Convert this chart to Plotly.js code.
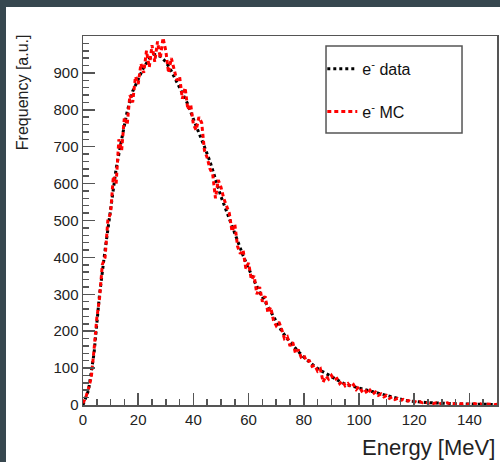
<!DOCTYPE html>
<html>
<head>
<meta charset="utf-8">
<script src="https://cdn.plot.ly/plotly-3.0.1.min.js"></script>
<style>
  html, body { margin: 0; padding: 0; background: #37474f; width: 500px; height: 462px; overflow: hidden; }
  #chart { position: absolute; left: 6px; top: 7px; width: 494px; height: 455px; background: #ffffff; }
</style>
</head>
<body>
<div id="chart"></div>
<script>
// Energy bins (MeV) and frequencies (a.u.)
const dataEnergy = [0,2,4,6,8,10,12,14,16,18,20,22,24,26,28,30,32,34,36,38,40,42,44,46,48,50,52,54,56,58,60,62,64,66,68,70,72,74,76,78,80,82,84,86,88,90,92,94,96,98,100,102,104,106,108,110,112,114,116,118,120,122,124,126,128,130,132,134,136,138,140,142,144,146,148,150];
const dataFreq = [0,40,140,300,420,530,640,720,795,850,885,915,938,950,945,930,905,875,845,815,775,740,700,660,610,565,525,485,440,405,370,335,305,280,252,225,200,180,162,145,130,116,104,94,85,76,68,60,54,50,45,40,36,32,28,24,20,17,14,11,9,8,7,6,5,4,4,3,3,3,2,2,2,2,2,1];

const mcEnergy = [0,1,2,3,4,5,6,7,8,9,10,11,12,13,14,15,16,17,18,19,20,21,22,23,24,25,26,27,28,29,30,31,32,33,34,35,36,37,38,39,40,41,42,43,44,45,46,47,48,49,50,51,52,53,54,55,56,57,58,59,60,61,62,63,64,65,66,67,68,69,70,71,72,73,74,75,76,77,78,79,80,81,82,83,84,85,86,87,88,89,90,91,92,93,94,95,96,97,98,99,100,101,102,103,104,105,106,107,108,109,110,111,112,113,114,115,116,117,118,119,120,121,122,123,124,125,126,127,128,129,130,131,132,133,134,135,136,137,138,139,140,141,142,143,144,145,146,147,148,149,150];
const mcFreq = [5,20,45,75,150,235,290,380,400,500,520,620,600,720,690,780,760,840,820,890,870,925,900,960,915,975,930,985,940,995,960,900,940,910,880,890,830,860,800,815,760,745,780,765,690,670,640,625,560,610,590,560,540,520,470,490,430,410,420,370,385,340,350,300,320,280,295,250,265,230,215,225,205,180,185,160,170,140,150,130,135,118,120,105,108,92,98,62,78,70,80,68,72,58,65,52,58,48,55,42,50,38,44,30,40,30,35,26,30,22,26,18,22,15,18,12,15,10,12,8,10,7,9,6,8,5,7,4,6,3,5,4,6,3,4,2,5,3,4,2,3,2,4,2,3,1,3,2,2,1,2];

const xTitle = 'Energy [MeV]';
const yTitle = 'Frequency [a.u.]';
const nameData = 'e<sup>-</sup> data';
const nameMC = 'e<sup>-</sup> MC';

const traces = [
  {
    x: dataEnergy, y: dataFreq, type: 'scatter', mode: 'lines', name: nameData,
    legendgroup: 'a',
    line: { color: '#000000', width: 3, dash: '3px,3px' }
  },
  {
    x: mcEnergy, y: mcFreq, type: 'scatter', mode: 'lines', name: nameMC,
    legendgroup: 'b',
    line: { color: '#ff0000', width: 3, dash: '4px,3px' }
  }
];

const axisCommon = {
  showgrid: false, zeroline: false, showline: true, mirror: true,
  linecolor: '#555555', linewidth: 1.5,
  ticks: 'inside', tickcolor: '#555555', tickwidth: 1.5,
  tickfont: { family: 'Liberation Sans, Arial, sans-serif', size: 15, color: '#222222' }
};

const layout = {
  width: 494, height: 455,
  margin: { l: 77, r: 3, t: 29, b: 57 },
  paper_bgcolor: '#ffffff', plot_bgcolor: '#ffffff',
  font: { family: 'Liberation Sans, Arial, sans-serif', color: '#222222' },
  showlegend: true,
  legend: {
    x: 0.578, y: 0.957, xanchor: 'left', yanchor: 'top',
    bgcolor: 'rgba(0,0,0,0)', borderwidth: 0,
    tracegroupgap: 19,
    font: { size: 16, color: '#111111' }
  },
  xaxis: Object.assign({}, axisCommon, {
    range: [0, 150], tickmode: 'linear', tick0: 0, dtick: 20, ticklen: 12,
    minor: { dtick: 5, ticklen: 6, ticks: 'inside', tickcolor: '#555555', tickwidth: 1.5 }
  }),
  yaxis: Object.assign({}, axisCommon, {
    range: [0, 1000], tickmode: 'array',
    tickvals: [0,100,200,300,400,500,600,700,800,900],
    ticktext: ['0','100','200','300','400','500','600','700','800','900'],
    ticklen: 12,
    minor: { dtick: 20, ticklen: 6, ticks: 'inside', tickcolor: '#555555', tickwidth: 1.5 }
  }),
  shapes: [
    { type: 'rect', xref: 'paper', yref: 'paper', x0: 0.587, x1: 0.9155, y0: 0.737, y1: 0.973,
      line: { color: '#555555', width: 1.5 }, fillcolor: 'rgba(0,0,0,0)' }
  ],
  annotations: [
    { text: xTitle, xref: 'paper', yref: 'paper', x: 1, y: -0.1165, xanchor: 'right', yanchor: 'middle',
      showarrow: false, font: { size: 22, color: '#222222' } },
    { text: yTitle, xref: 'paper', yref: 'paper', x: -0.147, y: 1.0108, xanchor: 'center', yanchor: 'top',
      textangle: -90, showarrow: false, font: { size: 16, color: '#222222' } }
  ]
};

Plotly.newPlot('chart', traces, layout, { displayModeBar: false, staticPlot: true });
</script>
</body>
</html>
